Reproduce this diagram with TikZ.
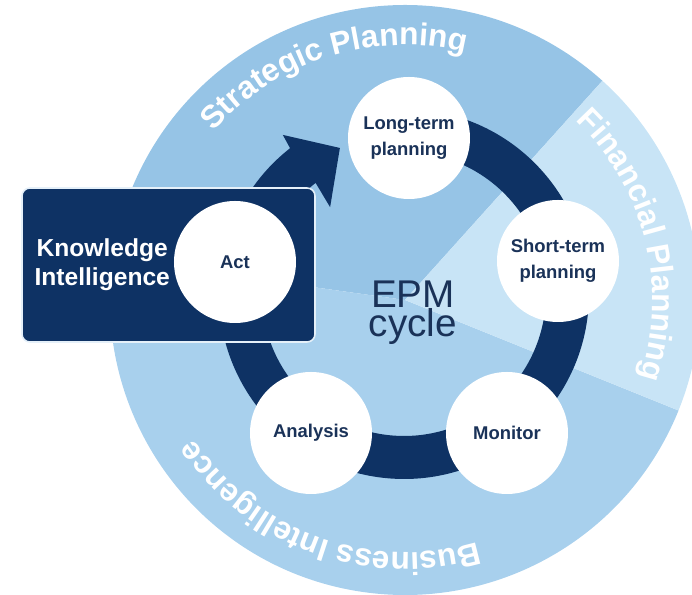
\documentclass[tikz,border=0pt]{standalone}
\usepackage{fontspec}
\setmainfont{Liberation Sans}
\usetikzlibrary{positioning,decorations.text}

\definecolor{epmnavy}{RGB}{14,50,100}
\definecolor{epmink}{RGB}{26,50,88}
\definecolor{stratblue}{RGB}{150,196,230}
\definecolor{finblue}{RGB}{200,228,246}
\definecolor{biblue}{RGB}{168,208,237}

\newcommand\rimfont{\bfseries\fontsize{18}{18}\selectfont}

\tikzset{
  stagecirc/.style={circle,fill=white,minimum size=2.44cm,inner sep=0pt,align=center,
    text=epmink,font=\bfseries\fontsize{10.5}{14.5}\selectfont},
  kipanel/.style={rectangle,rounded corners=4.5pt,fill=epmnavy,draw=white!75!stratblue,
    line width=0.9pt,minimum width=5.86cm,minimum height=3.08cm},
  kitext/.style={inner sep=0pt,align=center,text=white,
    font=\bfseries\fontsize{14}{16.5}\selectfont},
  rimlabel/.style={decorate,decoration={text along path,text align=center,
    text color=white,text={|\rimfont|#1}}}
}

\begin{document}
\begin{tikzpicture}
    \clip (-8.1,-5.9) rectangle (5.74,6.0);

    %==================== Outer disc: three planning sectors ====================
    \fill[stratblue] (0,0) -- (48:5.9) arc[start angle=48,end angle=172,radius=5.9] -- cycle;
    \fill[biblue]    (0,0) -- (172:5.9) arc[start angle=172,end angle=338,radius=5.9] -- cycle;
    \fill[finblue]   (0,0) -- (-22:5.9) arc[start angle=-22,end angle=48,radius=5.9] -- cycle;

    % Sector titles along the rim (clockwise, tops outward)
    \path[rimlabel={Strategic Planning}] (160:5.1) arc[start angle=160,end angle=55,radius=5.1];
    \path[rimlabel={Financial Planning}] (66:4.95) arc[start angle=66,end angle=-38,radius=4.95];
    \path[rimlabel={Business Intelligence}] (-57:5.05) arc[start angle=-57,end angle=-163,radius=5.05];

    %==================== EPM ring with arrow head ====================
    \begin{scope}[shift={(-0.02,0.12)}]
      % ring runs clockwise from under Long-term planning round to the arrow head
      \fill[epmnavy] (85:3.7) arc[start angle=85,end angle=-232,radius=3.7]
        -- (-232.7:4.0) -- (-246.3:3.19) -- (-229.6:2.28)
        -- (-231.5:2.84) arc[start angle=-231.5,end angle=85,radius=2.84] -- cycle;
    \end{scope}

    % Knowledge Intelligence panel
    \node[kipanel] (ki) at (-4.73,0.7) {};
    \node[kitext,right=0.26cm of ki.west] (kitext) {Knowledge\\Intelligence};

    %==================== Stages of the cycle ====================
    \foreach \nm/\x/\y/\txt in {ltp/0.08/3.24/{Long-term\\planning},
                                stp/3.06/0.78/{Short-term\\planning},
                                mon/2.04/-2.66/Monitor,
                                ana/-1.88/-2.66/Analysis,
                                act/-3.4/0.76/Act} {
      \node[stagecirc] (\nm) at (\x,\y) {\txt};
    }

    % Centre label
    \node[text=epmink,align=center,inner sep=0pt,font=\fontsize{22}{16.5}\selectfont]
      (epm) at (0.16,-0.25) {EPM\\cycle};

\end{tikzpicture}
\end{document}
